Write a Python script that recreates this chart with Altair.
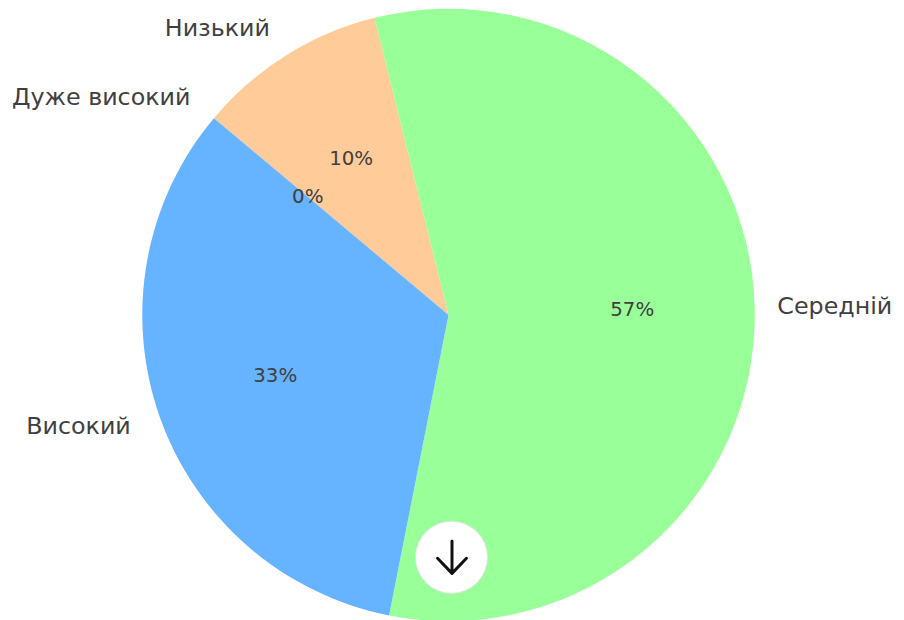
import math
import altair as alt
import pandas as pd

labels = ["Низький", "Середній", "Високий", "Дуже високий"]
shares = [10.0, 57.0, 33.0, 0.0]
percent_text = ["10%", "57%", "33%", "0%"]
colors = ["#ffcc99", "#99ff99", "#66b3ff", "#ff9999"]
sides = ["right", "left", "right", "right"]

df = pd.DataFrame({"label": labels, "share": shares, "pct": percent_text,
                   "side": sides, "i": list(range(len(labels)))})

CX, CY, R = 444.5, 307, 309
start = math.radians(-50)
theta = alt.Theta("share:Q", stack=True,
                  scale=alt.Scale(domain=[0, 100], range=[start, start + 2 * math.pi]))
order = alt.Order("i:Q")
TEXT = "#404040"
FONT = "DejaVu Sans"

base = alt.Chart(df)
arcs = base.mark_arc(outerRadius=R, innerRadius=0).encode(
    theta=theta, order=order,
    x=alt.value(CX), y=alt.value(CY),
    color=alt.Color("label:N", sort=labels,
                    scale=alt.Scale(domain=labels, range=colors), legend=None),
)
outer = base.mark_text(font=FONT, fontSize=24, color=TEXT, baseline="middle",
                       align=alt.expr("datum.side"),
                       dx=alt.expr("datum.side === 'left' ? -8 : 0")).encode(
    theta=theta, order=order, radius=alt.value(R * 1.1),
    x=alt.value(CX), y=alt.value(CY), text="label:N",
)
inner = base.mark_text(font=FONT, fontSize=20, color=TEXT, baseline="middle", align="center").encode(
    theta=theta, order=order, radius=alt.value(R * 0.6),
    x=alt.value(CX), y=alt.value(CY), text="pct:N",
)
button = alt.Chart(pd.DataFrame({"k": [0]})).mark_point(
    shape="circle", filled=True, fill="white", stroke="#e3e3e3", strokeWidth=1, opacity=1, size=5290
).encode(x=alt.value(447.5), y=alt.value(551.5))
arrow = alt.Chart(pd.DataFrame({"k": [0]})).mark_point(
    shape="M0,-1L0,1M-0.9,0.06L0,1L0.9,0.06", filled=False, stroke="#111111",
    strokeWidth=3, strokeCap="round", strokeJoin="round", opacity=1, size=1050
).encode(x=alt.value(448), y=alt.value(551.5))

chart = alt.layer(arcs, outer, inner, button, arrow).properties(
    width=896, height=612, padding=0, background="white",
    autosize=alt.AutoSizeParams(type="none"),
).configure_view(stroke=None)

chart.save("out.html", embed_options={"renderer": "svg", "actions": False})
